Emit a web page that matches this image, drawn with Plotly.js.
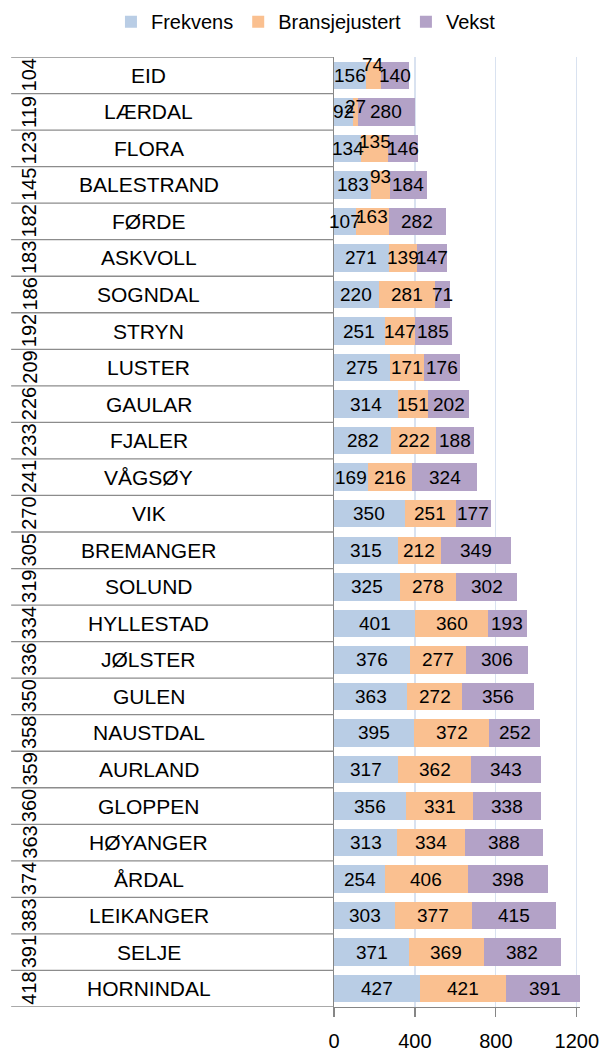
<!DOCTYPE html>
<html><head><meta charset="utf-8">
<script src="https://cdn.plot.ly/plotly-3.0.1.min.js"></script>
<style>html,body{margin:0;padding:0;background:#fff}</style>
</head><body><div id="chart" style="width:601px;height:1050px"></div>
<script>
const municipalities = ["EID","LÆRDAL","FLORA","BALESTRAND","FØRDE","ASKVOLL","SOGNDAL","STRYN","LUSTER","GAULAR","FJALER","VÅGSØY","VIK","BREMANGER","SOLUND","HYLLESTAD","JØLSTER","GULEN","NAUSTDAL","AURLAND","GLOPPEN","HØYANGER","ÅRDAL","LEIKANGER","SELJE","HORNINDAL"];
const codes = ["104","119","123","145","182","183","186","192","209","226","233","241","270","305","319","334","336","350","358","359","360","363","374","383","391","418"];
const frekvens = [156,92,134,183,107,271,220,251,275,314,282,169,350,315,325,401,376,363,395,317,356,313,254,303,371,427];
const bransjejustert = [74,27,135,93,163,139,281,147,171,151,222,216,251,212,278,360,277,272,372,362,331,334,406,377,369,421];
const vekst = [140,280,146,184,282,147,71,185,176,202,188,324,177,349,302,193,306,356,252,343,338,388,398,415,382,391];
const seriesNames = ["Frekvens","Bransjejustert","Vekst"];
const xTicks = [0,400,800,1200];

// style: manual upward nudges (px) of some Bransjejustert labels, as in the original
const raisedLabelShift = {"EID": 11, "LÆRDAL": 5, "FLORA": 7, "BALESTRAND": 8, "FØRDE": 5};

const FONT = '"Liberation Sans", Arial, sans-serif';
const colors = ["#B9CDE5","#FAC090","#B3A2C7"];
const L = 333.5, R = 21, T = 57.3, B = 43.3, W = 601, H = 1050;
const plotW = W - L - R, plotH = H - T - B;
const px2paper = p => (p - L) / plotW;

const seriesVals = [frekvens, bransjejustert, vekst];
const traces = seriesVals.map((vals, k) => ({
  type: 'bar', orientation: 'h',
  name: seriesNames[k],
  y: municipalities, x: vals,
  textposition: 'none',
  marker: {color: colors[k], line: {width: 0}},
  cliponaxis: true,
  hoverinfo: 'none'
}));

const shapes = [];
for (let i = 0; i <= municipalities.length; i++) {
  shapes.push({type: 'line', xref: 'paper', yref: 'y',
    x0: px2paper(10), x1: 0, y0: i - 0.5, y1: i - 0.5,
    line: {color: '#8C8C8C', width: 1.3}});
}

const annotations = [];
municipalities.forEach((m, i) => {
  annotations.push({xref: 'paper', yref: 'y', x: px2paper(148), y: m,
    text: m, showarrow: false, xanchor: 'center', yanchor: 'middle',
    font: {family: FONT, size: 21, color: '#000'}});
  annotations.push({xref: 'paper', yref: 'y', x: px2paper(28), y: m,
    text: codes[i], showarrow: false, textangle: -90, xanchor: 'center', yanchor: 'middle',
    font: {family: FONT, size: 20, color: '#000'}});
  let base = 0;
  seriesVals.forEach((vals, k) => {
    const v = vals[i];
    annotations.push({xref: 'x', yref: 'y', x: base + v / 2, y: m,
      text: String(v), showarrow: false, xanchor: 'center', yanchor: 'middle',
      yshift: (k === 1 && raisedLabelShift[m]) ? raisedLabelShift[m] : 0,
      font: {family: FONT, size: 19, color: '#000'}});
    base += v;
  });
});

const layout = {
  width: W, height: H,
  margin: {l: L, r: R, t: T, b: B, pad: 0, autoexpand: false},
  paper_bgcolor: '#fff', plot_bgcolor: '#fff',
  barmode: 'stack', bargap: 0.25,
  font: {family: FONT, size: 20, color: '#000'},
  showlegend: true,
  legend: {orientation: 'h', traceorder: 'normal', x: px2paper(110), xanchor: 'left',
    y: (H - B - 22) / plotH, yanchor: 'middle',
    font: {family: FONT, size: 20, color: '#000'}, itemwidth: 30, bgcolor: 'rgba(0,0,0,0)'},
  xaxis: {range: [0, 1216], tickvals: xTicks, ticktext: xTicks.map(String),
    showgrid: true, gridcolor: '#D9E2F0', gridwidth: 1.3,
    zeroline: false, showline: true, linecolor: '#868686', linewidth: 1.3,
    ticks: 'outside', ticklen: 9, tickcolor: '#868686', tickwidth: 1.3,
    ticklabelstandoff: 7,
    tickfont: {family: FONT, size: 20, color: '#000'}, fixedrange: true},
  yaxis: {type: 'category', categoryorder: 'array', categoryarray: municipalities,
    range: [municipalities.length - 0.5, -0.5],
    showticklabels: false, showgrid: false, zeroline: false,
    showline: true, linecolor: '#868686', linewidth: 1.3, ticks: '', fixedrange: true},
  shapes: shapes, annotations: annotations
};

Plotly.newPlot('chart', traces, layout, {displayModeBar: false, staticPlot: true});
</script></body></html>
